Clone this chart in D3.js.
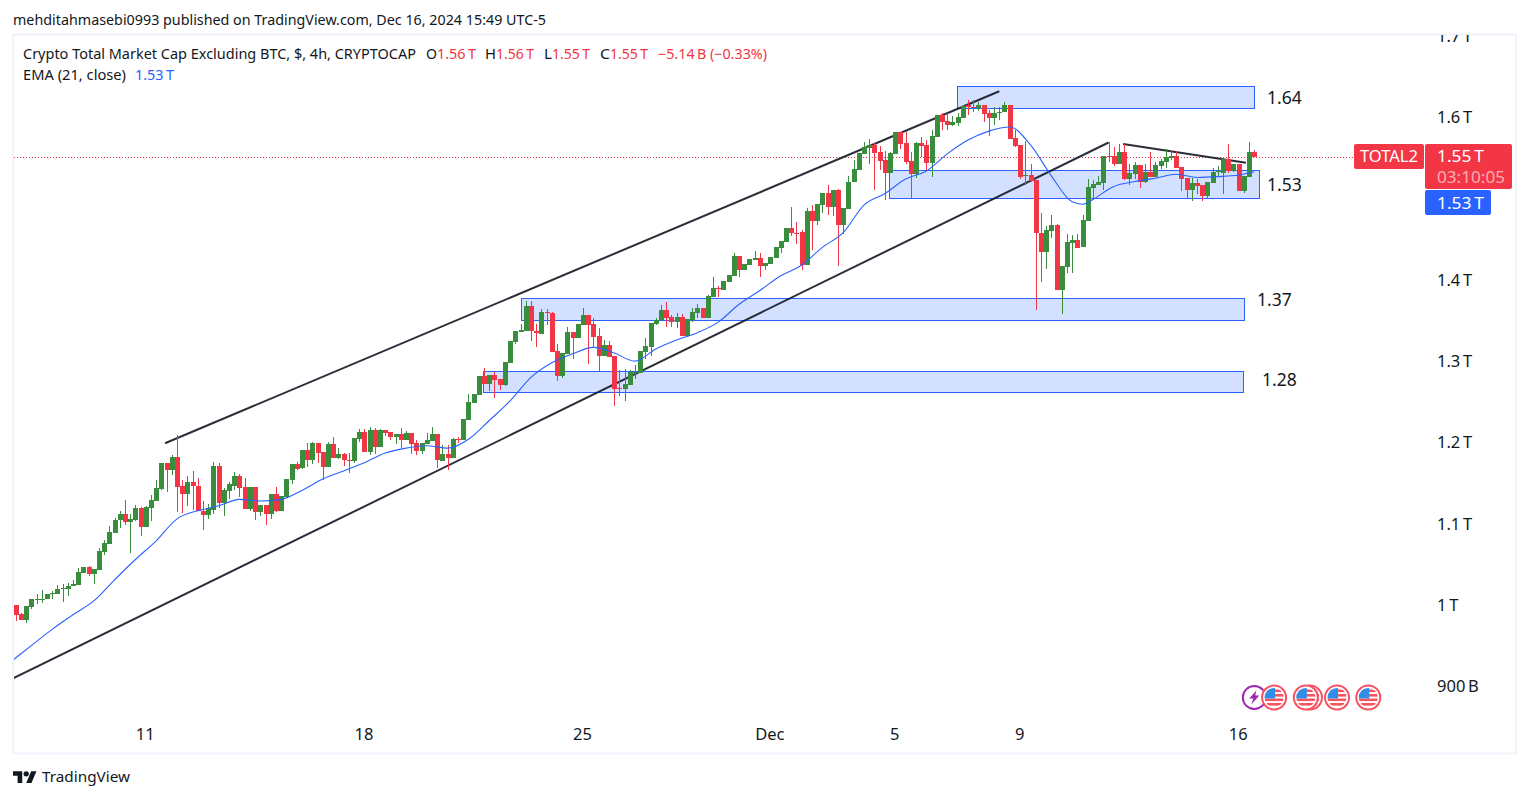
<!DOCTYPE html>
<html>
<head>
<meta charset="utf-8">
<title>TOTAL2 4h</title>
<script src="https://cdn.jsdelivr.net/npm/d3@7/dist/d3.min.js"></script>
<style>
	html, body { margin: 0; padding: 0; background: #fff; }
	svg { display: block; }
	text { font-family: "Noto Sans", "Open Sans", sans-serif; }
	.axis text { font-size: 16.5px; fill: #131722; }
	.axis path, .axis line { display: none; }
</style>
</head>
<body>
<svg id="chart" width="1529" height="798"></svg>
<script>
// all prices in billions of USD
var opens = [
	1000,989,982,998,1007,1007,1007,1013,1014,1020,
	1020,1023,1025,1039,1047,1038,1043,1065,1075,1089,
	1104,1112,1102,1104,1119,1096,1119,1128,1143,1175,
	1166,1182,1146,1136,1151,1147,1116,1111,1117,1171,
	1125,1140,1147,1159,1145,1118,1145,1114,1123,1112,
	1136,1116,1133,1154,1173,1168,1191,1178,1199,1188,
	1170,1198,1181,1186,1179,1177,1204,1213,1188,1215,
	1195,1215,1213,1207,1210,1203,1211,1199,1189,1198,
	1202,1210,1177,1186,1181,1204,1203,1228,1249,1258,
	1282,1272,1283,1278,1271,1298,1323,1336,1337,1368,
	1337,1334,1360,1359,1312,1282,1309,1336,1328,1344,
	1357,1346,1331,1306,1320,1306,1267,1266,1271,1285,
	1285,1311,1317,1346,1351,1363,1354,1348,1354,1331,
	1351,1359,1365,1353,1379,1390,1387,1397,1405,1429,
	1412,1418,1425,1427,1417,1419,1427,1439,1446,1464,
	1458,1459,1418,1485,1473,1492,1507,1490,1510,1467,
	1487,1520,1535,1555,1562,1566,1557,1547,1531,1555,
	1582,1568,1546,1530,1568,1566,1544,1576,1603,1595,
	1590,1593,1599,1615,1613,1612,1615,1605,1599,1605,
	1606,1615,1574,1566,1528,1529,1523,1458,1434,1460,
	1467,1387,1416,1445,1449,1440,1472,1513,1517,1519,
	1552,1552,1542,1557,1524,1530,1541,1520,1533,1526,
	1540,1545,1550,1552,1539,1525,1510,1519,1517,1503,
	1519,1533,1531,1549,1534,1542,1509,1526,1557
];
var closes = [
	988,982,999,1007,1008,1008,1014,1015,1020,1021,
	1023,1026,1041,1047,1038,1044,1066,1076,1090,1104,
	1112,1102,1106,1119,1096,1121,1129,1144,1175,1166,
	1182,1145,1136,1151,1146,1116,1111,1119,1171,1126,
	1141,1149,1159,1144,1118,1145,1114,1123,1112,1136,
	1116,1134,1155,1173,1167,1191,1178,1199,1187,1170,
	1198,1181,1186,1178,1178,1205,1213,1188,1215,1195,
	1215,1211,1207,1210,1203,1211,1198,1189,1199,1203,
	1210,1178,1186,1181,1204,1203,1229,1250,1260,1282,
	1272,1283,1277,1271,1299,1325,1337,1338,1368,1337,
	1335,1360,1359,1311,1282,1310,1336,1328,1346,1357,
	1344,1330,1306,1320,1305,1266,1266,1272,1287,1287,
	1312,1319,1347,1351,1363,1353,1348,1354,1331,1352,
	1360,1365,1353,1380,1390,1389,1399,1406,1429,1412,
	1419,1426,1427,1417,1421,1428,1440,1448,1464,1458,
	1457,1418,1485,1473,1493,1507,1490,1510,1467,1488,
	1521,1536,1556,1563,1566,1556,1546,1531,1556,1582,
	1567,1545,1530,1568,1565,1544,1577,1603,1594,1590,
	1594,1600,1614,1613,1612,1615,1604,1599,1605,1607,
	1615,1573,1565,1526,1529,1522,1458,1434,1461,1467,
	1387,1417,1446,1449,1439,1474,1514,1518,1520,1552,
	1551,1542,1557,1524,1531,1541,1520,1533,1526,1541,
	1546,1551,1552,1538,1524,1510,1519,1515,1503,1520,
	1533,1534,1549,1534,1542,1509,1528,1557,1551
];
var highs = [
	1000,990,999,1008,1013,1019,1014,1017,1025,1026,
	1027,1031,1045,1047,1048,1044,1070,1080,1097,1107,
	1116,1129,1112,1123,1121,1122,1135,1154,1175,1175,
	1184,1209,1154,1159,1165,1156,1128,1124,1176,1175,
	1144,1151,1164,1161,1156,1145,1145,1123,1123,1136,
	1145,1134,1155,1173,1176,1191,1199,1200,1199,1188,
	1200,1207,1193,1187,1187,1205,1216,1216,1219,1218,
	1217,1215,1213,1210,1218,1214,1211,1203,1199,1212,
	1219,1210,1197,1197,1205,1207,1229,1260,1260,1282,
	1291,1283,1287,1278,1299,1325,1337,1346,1374,1374,
	1346,1364,1364,1360,1321,1310,1342,1336,1346,1366,
	1357,1353,1341,1326,1325,1306,1289,1290,1289,1295,
	1312,1329,1347,1353,1369,1373,1357,1359,1358,1352,
	1365,1370,1365,1381,1404,1392,1399,1406,1433,1429,
	1419,1426,1435,1433,1421,1428,1440,1448,1464,1490,
	1471,1461,1488,1492,1493,1507,1517,1510,1512,1488,
	1528,1547,1556,1570,1573,1568,1565,1558,1557,1582,
	1582,1582,1557,1569,1576,1572,1584,1603,1605,1605,
	1601,1605,1615,1621,1621,1619,1615,1609,1613,1613,
	1619,1615,1584,1566,1571,1542,1523,1482,1466,1480,
	1469,1417,1456,1455,1457,1480,1524,1523,1528,1552,
	1569,1564,1567,1567,1543,1545,1541,1543,1557,1545,
	1549,1561,1558,1558,1539,1525,1525,1524,1517,1520,
	1537,1540,1549,1567,1542,1542,1528,1569,1560
];
var lows = [
	980,981,978,995,1001,1003,1007,1007,1013,1004,
	1011,1023,1025,1039,1036,1026,1043,1061,1075,1089,
	1095,1099,1064,1103,1085,1096,1103,1128,1141,1139,
	1160,1114,1113,1122,1117,1116,1092,1106,1112,1119,
	1109,1130,1141,1133,1118,1116,1104,1109,1098,1106,
	1114,1116,1133,1149,1166,1167,1170,1174,1175,1154,
	1170,1181,1180,1171,1163,1175,1201,1188,1184,1186,
	1195,1208,1203,1198,1193,1203,1186,1184,1186,1198,
	1202,1168,1177,1166,1181,1199,1203,1228,1249,1258,
	1272,1263,1255,1264,1269,1298,1321,1336,1337,1325,
	1318,1333,1344,1311,1276,1279,1309,1303,1328,1344,
	1297,1318,1288,1306,1305,1245,1257,1251,1271,1278,
	1285,1303,1306,1344,1351,1342,1342,1341,1331,1331,
	1348,1353,1353,1353,1379,1379,1387,1397,1405,1404,
	1412,1418,1424,1404,1412,1419,1427,1433,1446,1454,
	1444,1412,1418,1437,1467,1482,1480,1478,1417,1457,
	1487,1520,1535,1555,1542,1510,1535,1498,1531,1555,
	1561,1542,1499,1525,1551,1534,1526,1576,1584,1584,
	1589,1589,1599,1603,1607,1608,1594,1577,1590,1597,
	1606,1573,1563,1524,1517,1521,1363,1397,1413,1451,
	1387,1358,1408,1408,1439,1440,1472,1498,1517,1510,
	1545,1540,1542,1523,1517,1524,1513,1519,1526,1526,
	1536,1537,1548,1538,1509,1500,1497,1506,1497,1501,
	1519,1527,1506,1531,1533,1509,1507,1526,1551
];

// EMA (21, close), read every fourth bar or closer around the dip
var emaBars = [-1,3,7,11,15,19,23,27,31,35,39,43,47,51,55,59,63,67,71,75,79,83,87,91,95,99,103,107,111,115,119,123,127,131,135,139,143,147,151,155,159,163,167,171,175,179,183,187,191,195,199,203,205,207,211,215,219,223,227,231,235,238];
var emaValues = [930,950,970,988,1005,1031,1056,1079,1106,1116,1122,1130,1128,1130,1141,1155,1165,1175,1187,1193,1196,1193,1204,1227,1251,1280,1298,1309,1317,1310,1300,1315,1326,1335,1348,1370,1387,1405,1418,1440,1458,1492,1506,1524,1534,1555,1572,1583,1588,1566,1528,1496,1493,1499,1515,1521,1525,1530,1526,1527,1529,1533];

var timeTicks = [25, 67, 109, 145, 169, 193, 235];
var timeLabels = ["11", "18", "25", "Dec", "5", "9", "16"];
var priceTicks = [900, 1000, 1100, 1200, 1300, 1400, 1600, 1700];
var priceLabels = ["900 B", "1 T", "1.1 T", "1.2 T", "1.3 T", "1.4 T", "1.6 T", "1.7 T"];

// drawn zones: start bar, end bar, upper price, lower price
var zoneStart = [180.9, 167.9, 97, 89.85];
var zoneEnd = [238, 239, 235.9, 235.9];
var zoneTop = [1638, 1535, 1378, 1288];
var zoneBottom = [1611, 1501, 1351, 1262];

// drawn trend lines
var lineStartBar = [28.7, -0.46, 212.8];
var lineEndBar = [189, 210, 236.4];
var lineStartPrice = [1199, 910, 1567];
var lineEndPrice = [1632, 1569, 1544];

var zoneLabels = ["1.64", "1.53", "1.37", "1.28"];
var zoneLabelX = [1267, 1267, 1257, 1262];
var zoneLabelY = [98, 185, 300, 380];

var flagBars = [248.7, 241.8, 247.9, 253.9, 259.9];
var boltBar = 238;

var GREEN = "#388e3c", RED = "#f23645", BLUE = "#2962ff", INK = "#131722";

var svg = d3.select("#chart");
var x = d3.scaleLinear().domain([0, 238]).range([15.7, 1254.3]);
var y = d3.scaleLinear().domain([900, 1700]).range([686.3, 36]);

var bars = d3.range(opens.length);

var defs = svg.append("defs");
defs.append("clipPath").attr("id", "pane")
  .append("rect")
	.attr("x", 14).attr("y", 35).attr("width", 1501).attr("height", 718);
defs.append("clipPath").attr("id", "flagClip")
  .append("circle")
	.attr("r", 9.5);

// pane frame
svg.append("rect")
	.attr("x", 13).attr("y", 34.5)
	.attr("width", 1503).attr("height", 719)
	.attr("fill", "none")
	.attr("stroke", "#f0f3fa")
	.attr("stroke-width", 2);

var pane = svg.append("g").attr("clip-path", "url(#pane)");

// zones
pane.append("g").selectAll("rect")
	.data(zoneStart)
	.enter()
  .append("rect")
	.attr("x", function (d) { return Math.round(x(d)) + 0.5; })
	.attr("y", function (d, i) { return Math.round(y(zoneTop[i])) + 0.5; })
	.attr("width", function (d, i) { return Math.round(x(zoneEnd[i]) - x(d)); })
	.attr("height", function (d, i) { return Math.round(y(zoneBottom[i]) - y(zoneTop[i])); })
	.attr("fill", "#2962ff")
	.attr("fill-opacity", 0.2)
	.attr("stroke", BLUE)
	.attr("stroke-width", 1);

// last price line
pane.append("line")
	.attr("x1", 14).attr("x2", 1354)
	.attr("y1", Math.floor(y(closes[closes.length - 1])) + 0.5)
	.attr("y2", Math.floor(y(closes[closes.length - 1])) + 0.5)
	.attr("stroke", RED)
	.attr("stroke-width", 1)
	.attr("stroke-dasharray", "1 2");

// trend lines
pane.append("g").selectAll("line")
	.data(lineStartBar)
	.enter()
  .append("line")
	.attr("x1", function (d) { return x(d); })
	.attr("y1", function (d, i) { return y(lineStartPrice[i]); })
	.attr("x2", function (d, i) { return x(lineEndBar[i]); })
	.attr("y2", function (d, i) { return y(lineEndPrice[i]); })
	.attr("stroke", INK)
	.attr("stroke-opacity", 0.9)
	.attr("stroke-width", 2);

// candles
function candleColour(i) {
	return closes[i] < opens[i] ? RED : GREEN;
}

var candles = pane.append("g").attr("shape-rendering", "crispEdges");

candles.selectAll("line")
	.data(bars)
	.enter()
  .append("line")
	.attr("x1", function (i) { return Math.round(x(i)) + 0.5; })
	.attr("x2", function (i) { return Math.round(x(i)) + 0.5; })
	.attr("y1", function (i) { return y(highs[i]); })
	.attr("y2", function (i) { return y(lows[i]); })
	.attr("stroke", candleColour);

candles.selectAll("rect")
	.data(bars)
	.enter()
  .append("rect")
	.attr("x", function (i) { return Math.round(x(i)) - 2; })
	.attr("width", 5)
	.attr("y", function (i) { return y(Math.max(opens[i], closes[i])); })
	.attr("height", function (i) {
		return Math.max(1, Math.abs(y(opens[i]) - y(closes[i])));
	})
	.attr("fill", candleColour);

// EMA
var emaLine = d3.line()
	.x(function (d) { return x(d); })
	.y(function (d, i) { return y(emaValues[i]); })
	.curve(d3.curveMonotoneX);

pane.append("path")
	.attr("d", emaLine(emaBars))
	.attr("fill", "none")
	.attr("stroke", BLUE)
	.attr("stroke-width", 1.1);

// axes
svg.append("g")
	.attr("clip-path", "url(#pane)")
  .append("g")
	.attr("class", "axis")
	.attr("transform", "translate(1437,0)")
	.call(d3.axisRight(y)
		.tickValues(priceTicks)
		.tickSize(0)
		.tickPadding(0)
		.tickFormat(function (d, i) { return priceLabels[i].replace(" ", "\u2009"); }));

svg.append("g")
	.attr("class", "axis")
	.attr("transform", "translate(-1,728)")
	.call(d3.axisBottom(x)
		.tickValues(timeTicks)
		.tickSize(0)
		.tickPadding(0)
		.tickFormat(function (d, i) { return timeLabels[i]; }));

// helper for header and label texts, width keeps the run the same length as the picture
function label(px, py, str, size, colour, width) {
	var t = svg.append("text")
		.attr("x", px)
		.attr("y", py)
		.attr("dy", "0.35em")
		.attr("font-size", size)
		.attr("fill", colour)
		.text(str);
	if (width) {
		t.attr("textLength", width).attr("lengthAdjust", "spacingAndGlyphs");
	}
	return t;
}

label(13, 20, "mehditahmasebi0993 published on TradingView.com, Dec 16, 2024 15:49 UTC-5", 14, INK, 533);
label(23, 54, "Crypto Total Market Cap Excluding BTC, $, 4h, CRYPTOCAP", 14, INK, 393);
label(23, 75, "EMA (21, close)", 14, INK, 103);
label(135, 75, "1.53\u2009T", 14, BLUE, 39);

label(426, 54, "O", 14, INK, 11);
label(437, 54, "1.56\u2009T", 14, RED, 39);
label(485, 54, "H", 14, INK, 11);
label(496, 54, "1.56\u2009T", 14, RED, 38);
label(544, 54, "L", 14, INK, 8);
label(552, 54, "1.55\u2009T", 14, RED, 38);
label(600, 54, "C", 14, INK, 10);
label(610, 54, "1.55\u2009T", 14, RED, 38);
label(658, 54, "\u22125.14\u2009B (\u22120.33%)", 14, RED, 109);

// zone captions
svg.append("g").selectAll("text")
	.data(zoneLabels)
	.enter()
  .append("text")
	.attr("x", function (d, i) { return zoneLabelX[i]; })
	.attr("y", function (d, i) { return zoneLabelY[i]; })
	.attr("dy", "0.35em")
	.attr("font-size", 17.5)
	.attr("fill", INK)
	.text(function (d) { return d; });

// price tags
svg.append("rect").attr("x", 1354).attr("y", 144).attr("width", 70).attr("height", 25).attr("rx", 2).attr("fill", RED);
svg.append("rect").attr("x", 1425).attr("y", 144).attr("width", 87).attr("height", 45).attr("rx", 2).attr("fill", RED);
svg.append("rect").attr("x", 1425).attr("y", 190).attr("width", 66).attr("height", 25).attr("rx", 2).attr("fill", BLUE);
label(1360, 156.5, "TOTAL2", 16, "#fff", 58);
label(1437, 156.5, "1.55\u2009T", 16, "#fff", 47);
label(1437, 177, "03:10:05", 16, "#fff", 68).attr("fill-opacity", 0.6);
label(1437, 203, "1.53\u2009T", 16, "#fff", 47);

// economic event icons
var ICON_Y = 697.5;

var bolt = svg.append("g").attr("transform", "translate(" + x(boltBar) + "," + ICON_Y + ")");
bolt.append("circle").attr("r", 11.5).attr("fill", "#fff").attr("stroke", "#9c27b0").attr("stroke-width", 2);
bolt.append("path").attr("d", "M2-7L-5 1H-1L-3 7L5-2H1Z").attr("fill", "#9c27b0");

var flags = svg.append("g").selectAll("g")
	.data(flagBars)
	.enter()
  .append("g")
	.attr("transform", function (d) { return "translate(" + x(d) + "," + ICON_Y + ")"; });

flags.append("circle")
	.attr("r", 12)
	.attr("fill", "#fff")
	.attr("stroke", "#f7525f")
	.attr("stroke-width", 2);

var flagInner = flags.append("g").attr("clip-path", "url(#flagClip)");
flagInner.append("rect").attr("x", -10).attr("y", -10).attr("width", 20).attr("height", 20).attr("fill", "#fff");
[-8, -3.5, 1, 5.5].forEach(function (top) {
	flagInner.append("rect").attr("x", -10).attr("y", top).attr("width", 20).attr("height", 2.6).attr("fill", "#f7525f");
});
flagInner.append("rect").attr("x", -10).attr("y", -10).attr("width", 11).attr("height", 11).attr("fill", "#2f8fe8");

// TradingView logo
svg.append("path")
	.attr("transform", "translate(13,768.5) scale(0.66)")
	.attr("d", "M14 22H7V11H0V4h14v18zM28 22h-8l7.5-18h8L28 22z")
	.attr("fill", INK);
svg.append("circle")
	.attr("transform", "translate(13,768.5) scale(0.66)")
	.attr("cx", 20).attr("cy", 8).attr("r", 4)
	.attr("fill", INK);
label(42, 776.5, "TradingView", 15, INK, 88);
</script>
</body>
</html>
